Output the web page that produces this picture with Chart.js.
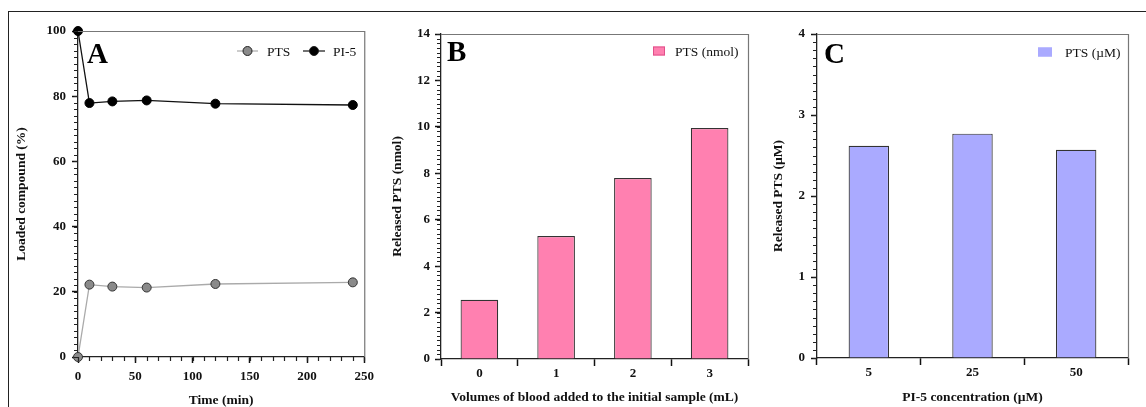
<!DOCTYPE html>
<html>
<head>
<meta charset="utf-8">
<script src="https://cdn.jsdelivr.net/npm/chart.js@4/dist/chart.umd.min.js"></script>
<style>
  html, body { margin: 0; padding: 0; background: #fff; overflow: hidden; }
  body { width: 1146px; height: 407px; position: relative; }
  #frame { position: absolute; left: 8px; top: 11px; width: 1160px; height: 420px;
    border-top: 1.5px solid #222; border-left: 1.5px solid #222; }
  .panel { position: absolute; top: 13px; height: 400px; }
  #pa { left: 10px; width: 370px; }
  #pb { left: 380px; width: 380px; }
  #pc { left: 760px; width: 386px; }
</style>
</head>
<body>
<div id="frame"></div>
<div class="panel" id="pa"><canvas id="chartA"></canvas></div>
<div class="panel" id="pb"><canvas id="chartB"></canvas></div>
<div class="panel" id="pc"><canvas id="chartC"></canvas></div>
<script>
// panel A: loading over time
const timeMin = [0, 10, 30, 60, 120, 240];
const ptsLoaded = [0, 22.2, 21.6, 21.3, 22.4, 22.9];
const pi5Loaded = [100, 77.9, 78.4, 78.7, 77.7, 77.3];

// panel B: blood volume
const bloodVolumes = ["0", "1", "2", "3"];
const ptsReleasedNmol = [2.55, 5.3, 7.8, 9.95];

// panel C: PI-5 concentration
const pi5Conc = ["5", "25", "50"];
const ptsReleasedUM = [2.62, 2.77, 2.57];

const serif = "'Liberation Serif', 'Times New Roman', serif";
Chart.defaults.font.family = serif;
Chart.defaults.color = "#111";
Chart.defaults.animation = false;

const tickFont = { family: serif, size: 13, weight: "bold" };
const titleFont = { family: serif, size: 13.5, weight: "bold" };
const gridOpts = (len, offset) => ({
  offset: offset,
  drawOnChartArea: false,
  drawTicks: true,
  tickLength: len,
  tickWidth: 1.5,
  tickColor: "#111",
});
const borderOpts = { display: true, color: "#222", width: 1.3 };

// minor ticks + box + panel letter + legend
const decor = {
  id: "decor",
  afterDraw(chart, args, opts) {
    const ctx = chart.ctx;
    const a = chart.chartArea;
    ctx.save();
    // top / right frame of plot area
    ctx.strokeStyle = "#777";
    ctx.lineWidth = 1.2;
    ctx.beginPath();
    ctx.moveTo(a.left, a.top + 0.5);
    ctx.lineTo(a.right + 0.5, a.top + 0.5);
    ctx.lineTo(a.right + 0.5, a.bottom);
    ctx.stroke();

    // minor ticks
    ctx.strokeStyle = "#222";
    ctx.lineWidth = 1.2;
    (opts.minor || []).forEach((m) => {
      const s = chart.scales[m.id];
      ctx.beginPath();
      const n = Math.round((s.max - s.min) / m.step);
      for (let i = 0; i <= n; i++) {
        const p = Math.round(s.getPixelForValue(s.min + i * m.step)) + 0.5;
        if (m.id === "y") {
          ctx.moveTo(a.left - m.len, p);
          ctx.lineTo(a.left, p);
        } else {
          ctx.moveTo(p, a.bottom);
          ctx.lineTo(p, a.bottom + m.len);
        }
      }
      ctx.stroke();
    });

    // panel letter
    ctx.fillStyle = "#000";
    ctx.font = "bold 29px " + serif;
    ctx.textBaseline = "alphabetic";
    ctx.fillText(opts.letter, opts.letterX, opts.letterY);

    // legend
    ctx.font = "13.5px " + serif;
    ctx.textBaseline = "middle";
    (opts.legend || []).forEach((l) => {
      if (l.type === "line") {
        ctx.strokeStyle = l.line;
        ctx.lineWidth = 1.2;
        ctx.beginPath();
        ctx.moveTo(l.x, l.y);
        ctx.lineTo(l.x + l.w, l.y);
        ctx.stroke();
        ctx.beginPath();
        ctx.arc(l.x + l.w / 2, l.y, 4.5, 0, Math.PI * 2);
        ctx.fillStyle = l.fill;
        ctx.fill();
        ctx.lineWidth = 1;
        ctx.strokeStyle = "#222";
        ctx.stroke();
      } else {
        ctx.fillStyle = l.fill;
        ctx.fillRect(l.x, l.y - 4.5, l.w, 9);
        ctx.strokeStyle = l.border;
        ctx.lineWidth = 1;
        ctx.strokeRect(l.x + 0.5, l.y - 4, l.w - 1, 8);
      }
      ctx.fillStyle = "#111";
      ctx.fillText(l.text, l.tx, l.y + 1);
    });
    ctx.restore();
  },
};

const yAxisBase = (min, max, step, width, titleText, titlePad, tickPad) => ({
  type: "linear",
  min: min,
  max: max,
  afterFit: (s) => { s.width = width; },
  ticks: { stepSize: step, font: tickFont, color: "#111", padding: tickPad },
  grid: gridOpts(6, false),
  border: borderOpts,
  title: { display: true, text: titleText, font: titleFont, color: "#111", padding: { top: titlePad, bottom: 0 } },
});

// ---- A ----
new Chart(document.getElementById("chartA"), {
  type: "line",
  data: {
    labels: timeMin,
    datasets: [
      {
        label: "PTS",
        data: timeMin.map((t, i) => ({ x: t, y: ptsLoaded[i] })),
        borderColor: "#aaa",
        borderWidth: 1.3,
        backgroundColor: "#8a8a8a",
        pointBorderColor: "#333",
        pointBorderWidth: 1,
        pointRadius: 4.5,
        clip: false,
      },
      {
        label: "PI-5",
        data: timeMin.map((t, i) => ({ x: t, y: pi5Loaded[i] })),
        borderColor: "#111",
        borderWidth: 1.3,
        backgroundColor: "#000",
        pointBorderColor: "#000",
        pointBorderWidth: 1,
        pointRadius: 4.5,
        clip: false,
      },
    ],
  },
  options: {
    responsive: true,
    maintainAspectRatio: false,
    layout: { padding: { top: 18, right: 7, left: 0, bottom: 0 } },
    plugins: {
      legend: { display: false },
      tooltip: { enabled: false },
      decor: {
        letter: "A", letterX: 77, letterY: 50,
        minor: [{ id: "y", step: 2, len: 4 }, { id: "x", step: 10, len: 4 }],
        legend: [
          { type: "line", x: 227, y: 38, w: 21, line: "#aaa", fill: "#8a8a8a", text: "PTS", tx: 257 },
          { type: "line", x: 293, y: 38, w: 22, line: "#111", fill: "#000", text: "PI-5", tx: 323 },
        ],
      },
    },
    scales: {
      x: {
        type: "linear",
        min: 0,
        max: 250,
        afterFit: (s) => { s.height = 56; },
        ticks: { stepSize: 50, font: tickFont, color: "#111", padding: 6 },
        grid: gridOpts(6, false),
        border: borderOpts,
        title: { display: true, text: "Time (min)", font: titleFont, color: "#111", padding: { top: 0, bottom: 4 } },
      },
      y: yAxisBase(0, 100, 20, 68, "Loaded compound (%)", 3, 6),
    },
  },
  plugins: [decor],
});

// ---- B ----
new Chart(document.getElementById("chartB"), {
  type: "bar",
  data: {
    labels: bloodVolumes,
    datasets: [
      {
        label: "PTS (nmol)",
        data: ptsReleasedNmol,
        backgroundColor: "#ff80b0",
        borderColor: "#333",
        borderWidth: 1.2,
        barPercentage: 0.49,
        categoryPercentage: 1,
      },
    ],
  },
  options: {
    responsive: true,
    maintainAspectRatio: false,
    layout: { padding: { top: 21, right: 12, left: 0, bottom: 0 } },
    plugins: {
      legend: { display: false },
      tooltip: { enabled: false },
      decor: {
        letter: "B", letterX: 67, letterY: 48,
        minor: [{ id: "y", step: 0.2, len: 4 }],
        legend: [
          { type: "box", x: 273, y: 38, w: 12, fill: "#ff80b0", border: "#e0508a", text: "PTS (nmol)", tx: 295 },
        ],
      },
    },
    scales: {
      x: {
        afterFit: (s) => { s.height = 54; },
        ticks: { font: tickFont, color: "#111", padding: 0 },
        grid: gridOpts(7, true),
        border: borderOpts,
        title: { display: true, text: "Volumes of blood added to the initial sample (mL)", font: titleFont, color: "#111", padding: { top: 0, bottom: 7 } },
      },
      y: yAxisBase(0, 14, 2, 61, "Released PTS (nmol)", 9, 5),
    },
  },
  plugins: [decor],
});

// ---- C ----
new Chart(document.getElementById("chartC"), {
  type: "bar",
  data: {
    labels: pi5Conc,
    datasets: [
      {
        label: "PTS (µM)",
        data: ptsReleasedUM,
        backgroundColor: "#aaaaff",
        borderColor: "#333",
        borderWidth: 1.2,
        barPercentage: 0.39,
        categoryPercentage: 1,
      },
    ],
  },
  options: {
    responsive: true,
    maintainAspectRatio: false,
    layout: { padding: { top: 21, right: 18, left: 0, bottom: 0 } },
    plugins: {
      legend: { display: false },
      tooltip: { enabled: false },
      decor: {
        letter: "C", letterX: 64, letterY: 50,
        minor: [{ id: "y", step: 0.1, len: 4 }],
        legend: [
          { type: "box", x: 278, y: 39, w: 14, fill: "#aaaaff", border: "#aaaaff", text: "PTS (µM)", tx: 305 },
        ],
      },
    },
    scales: {
      x: {
        afterFit: (s) => { s.height = 55; },
        ticks: { font: tickFont, color: "#111", padding: 0 },
        grid: gridOpts(7, true),
        border: borderOpts,
        title: { display: true, text: "PI-5 concentration (µM)", font: titleFont, color: "#111", padding: { top: 0, bottom: 7 } },
      },
      y: yAxisBase(0, 4, 1, 57, "Released PTS (µM)", 10, 6),
    },
  },
  plugins: [decor],
});
</script>
</body>
</html>
